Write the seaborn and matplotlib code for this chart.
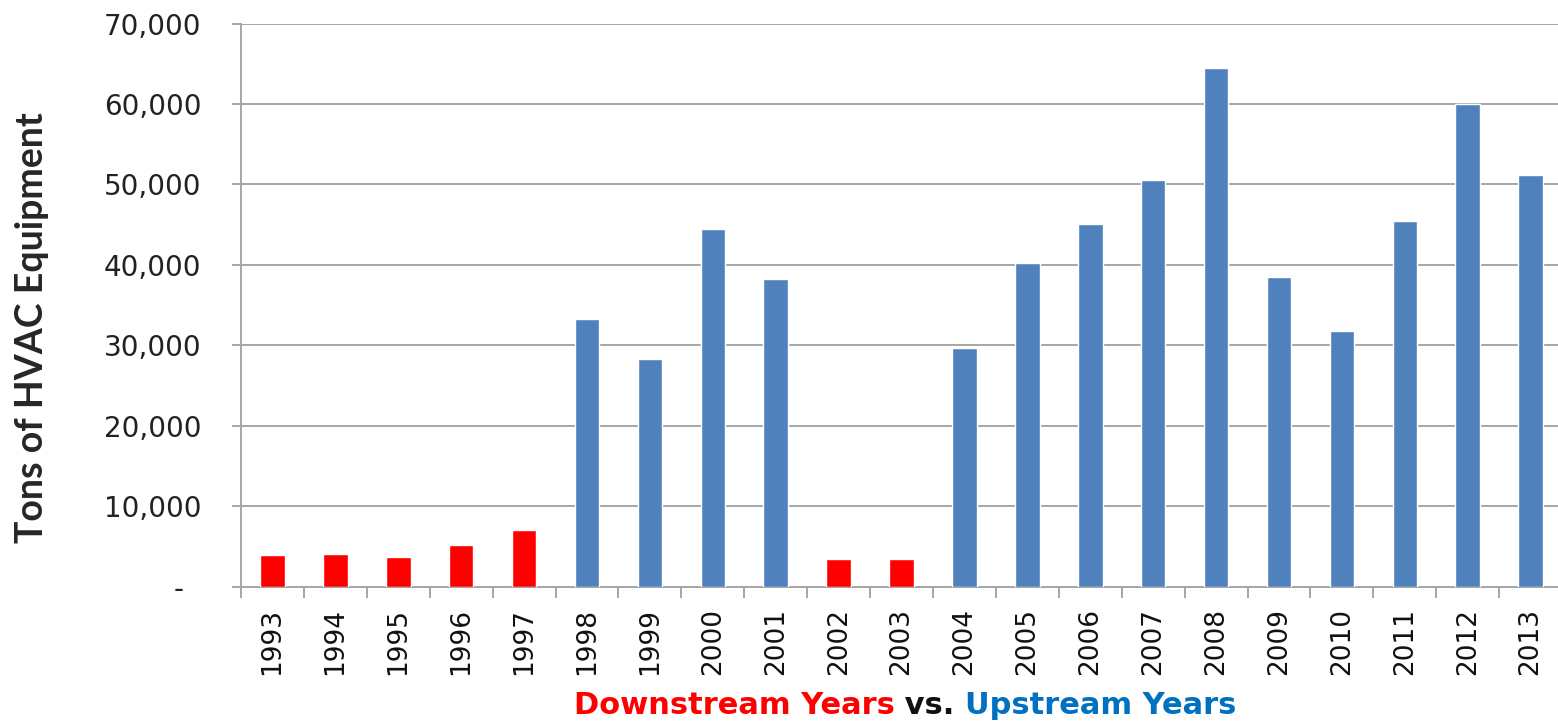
import numpy as np
import pandas as pd
import matplotlib
matplotlib.use("Agg")
import matplotlib.pyplot as plt
import seaborn as sns
from matplotlib.offsetbox import TextArea, HPacker, AnchoredOffsetbox

years = ["1993", "1994", "1995", "1996", "1997", "1998", "1999", "2000", "2001", "2002", "2003",
         "2004", "2005", "2006", "2007", "2008", "2009", "2010", "2011", "2012", "2013"]
tons = [3975, 4140, 3760, 5180, 7120, 33280, 28310, 44420, 38260, 3440, 3440,
        29720, 40200, 45150, 50540, 64450, 38520, 31780, 45440, 60000, 51240]
period = ["Downstream"] * 5 + ["Upstream"] * 4 + ["Downstream"] * 2 + ["Upstream"] * 10

palette = {"Downstream": "#FF0000", "Upstream": "#4F81BD"}
grid_color = "#A6A6A6"

df = pd.DataFrame({"Year": years, "Tons": tons, "Period": period})

sns.set_style("white")
plt.rcParams["font.family"] = ["DejaVu Sans"]

fig = plt.figure(figsize=(15.58, 7.21), dpi=100)
ax = fig.add_axes([0.1547, 0.1859, 0.8479, 0.7815])

sns.barplot(data=df, x="Year", y="Tons", hue="Period", palette=palette, order=years,
            dodge=False, width=0.39, legend=False, saturation=1, ax=ax, zorder=3)

ax.set_xlim(-0.5, len(years) - 0.5)
ax.set_ylim(0, 70000)
ax.set_yticks(np.arange(0, 70001, 10000))
ax.set_yticklabels(["-  "] + [f"{v:,}" for v in range(10000, 70001, 10000)])
ax.yaxis.grid(True, color=grid_color, linewidth=1.4, zorder=0)
ax.set_axisbelow(True)

# labels at bar centres, tick marks between categories
ax.set_xticks(np.arange(-0.5, len(years), 1), minor=True)
ax.tick_params(axis="x", which="major", length=0, pad=15, rotation=90,
               labelsize=19, labelcolor="#111111")
ax.tick_params(axis="x", which="minor", length=8, width=1.4, color=grid_color, bottom=True)
ax.tick_params(axis="y", which="major", length=6.5, width=1.4, color=grid_color, left=True,
               pad=22, labelsize=20, labelcolor="#222222")

for side in ["top", "right"]:
    ax.spines[side].set_visible(False)
for side in ["left", "bottom"]:
    ax.spines[side].set_color(grid_color)
    ax.spines[side].set_linewidth(1.4)

ax.set_xlabel("")
ax.set_ylabel("")
fig.text(0.0205, 0.545, "Tons of HVAC Equipment", rotation=90, ha="center", va="center",
         fontsize=27, fontweight="bold", family=["Lato", "DejaVu Sans"])

# two-colour x label
props = dict(fontsize=22, fontweight="bold", family=["DejaVu Sans"])
parts = [TextArea("Downstream Years", textprops=dict(color="#FF0000", **props)),
         TextArea(" vs. ", textprops=dict(color="#111111", **props)),
         TextArea("Upstream Years", textprops=dict(color="#0070C0", **props))]
box = HPacker(children=parts, align="baseline", pad=0, sep=0)
anchored = AnchoredOffsetbox(loc="center", child=box, frameon=False, pad=0, borderpad=0,
                             bbox_to_anchor=(0.581, 0.021), bbox_transform=fig.transFigure)
fig.add_artist(anchored)

fig.savefig("out.png", dpi=100)
